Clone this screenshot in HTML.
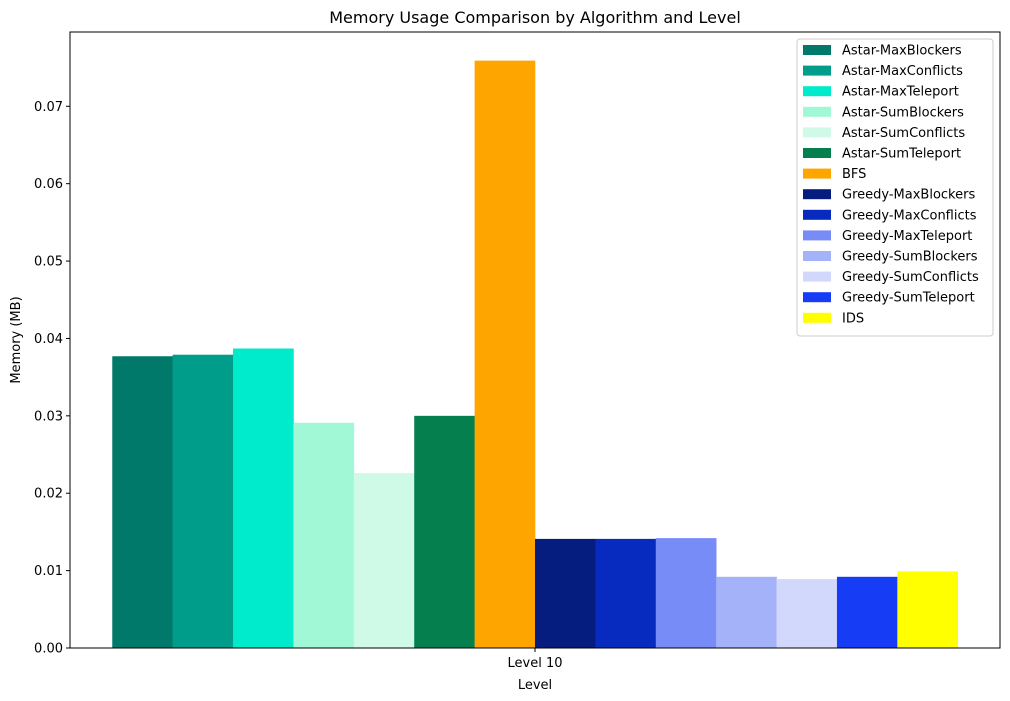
<!DOCTYPE html>
<html><head><meta charset="utf-8"><style>
html,body{margin:0;padding:0;background:#fff;}
svg{display:block;font-family:"DejaVu Sans","Liberation Sans",sans-serif;}
</style></head><body>
<svg id="chart" width="1010" height="701">
<text x="535" y="23" text-anchor="middle" font-size="16">Memory Usage Comparison by Algorithm and Level</text>
<g id="bars"></g>
<g id="yaxis"></g>
<rect x="70" y="32" width="930" height="616" fill="none" stroke="#000" stroke-width="1"/>
<line x1="535" y1="648" x2="535" y2="652" stroke="#000"/>
<text x="535" y="667" text-anchor="middle" font-size="13">Level 10</text>
<text x="535" y="689" text-anchor="middle" font-size="13">Level</text>
<text x="20" y="340" text-anchor="middle" font-size="13" transform="rotate(-90 20 340)">Memory (MB)</text>
<g id="legend"></g>
</svg>
<script>
const categories = ["Astar-MaxBlockers","Astar-MaxConflicts","Astar-MaxTeleport","Astar-SumBlockers","Astar-SumConflicts","Astar-SumTeleport","BFS","Greedy-MaxBlockers","Greedy-MaxConflicts","Greedy-MaxTeleport","Greedy-SumBlockers","Greedy-SumConflicts","Greedy-SumTeleport","IDS"];
const values = [0.0377,0.0379,0.0387,0.0291,0.0226,0.0300,0.0759,0.0141,0.0141,0.0142,0.0092,0.0089,0.0092,0.0099];
const colors = ["#00796b","#009e8a","#00ebcc","#a0f8d6","#d0fae8","#057f4e","#ffa500","#061d80","#072bbf","#778cf7","#a4b3f9","#d1d8fb","#173cf5","#ffff00"];
const yTicks = [0,0.01,0.02,0.03,0.04,0.05,0.06,0.07];
const yTickLabels = ["0.00","0.01","0.02","0.03","0.04","0.05","0.06","0.07"];
const NS="http://www.w3.org/2000/svg";
const plotLeft=70,plotRight=1000,plotTop=32,plotBottom=648;
const yMax=0.0796;
function yScale(v){return plotBottom-(v/yMax)*(plotBottom-plotTop);}
const n=values.length;
const span=(plotRight-plotLeft)/1.1;
const bw=span/n;
const x0=plotLeft+(plotRight-plotLeft-span)/2;
function xScale(i){return x0+i*bw;}
const bars=document.getElementById('bars');
values.forEach((v,i)=>{
  const r=document.createElementNS(NS,'rect');
  r.setAttribute('x',xScale(i));r.setAttribute('y',yScale(v));
  r.setAttribute('width',bw+0.3);r.setAttribute('height',plotBottom-yScale(v));
  r.setAttribute('fill',colors[i]);
  
  
  bars.appendChild(r);
});
const ya=document.getElementById('yaxis');
yTicks.forEach((t,i)=>{
  const l=document.createElementNS(NS,'line');
  l.setAttribute('x1',plotLeft-4);l.setAttribute('x2',plotLeft);
  l.setAttribute('y1',yScale(t));l.setAttribute('y2',yScale(t));l.setAttribute('stroke','#000');
  
  
  ya.appendChild(l);
  const tx=document.createElementNS(NS,'text');
  tx.setAttribute('x',plotLeft-7);tx.setAttribute('y',yScale(t)+4.5);
  tx.setAttribute('text-anchor','end');tx.setAttribute('font-size','13');
  tx.textContent=yTickLabels[i];
  
  
  ya.appendChild(tx);
});
const lg=document.getElementById('legend');
const box=document.createElementNS(NS,'rect');
box.setAttribute('x',797);box.setAttribute('y',39);box.setAttribute('width',196);box.setAttribute('height',297);
box.setAttribute('rx',3);box.setAttribute('fill','#fff');box.setAttribute('fill-opacity','0.8');box.setAttribute('stroke','#ccc');


lg.appendChild(box);
categories.forEach((c,i)=>{
  const yy=50+i*20.6;
  const p=document.createElementNS(NS,'rect');
  p.setAttribute('x',803);p.setAttribute('y',yy-5);p.setAttribute('width',28);p.setAttribute('height',10);
  p.setAttribute('fill',colors[i]);
  
  
  lg.appendChild(p);
  const t=document.createElementNS(NS,'text');
  t.setAttribute('x',842);t.setAttribute('y',yy+4.5);t.setAttribute('font-size','13');
  t.textContent=c;
  
  
  lg.appendChild(t);
});
</script>
</body></html>
